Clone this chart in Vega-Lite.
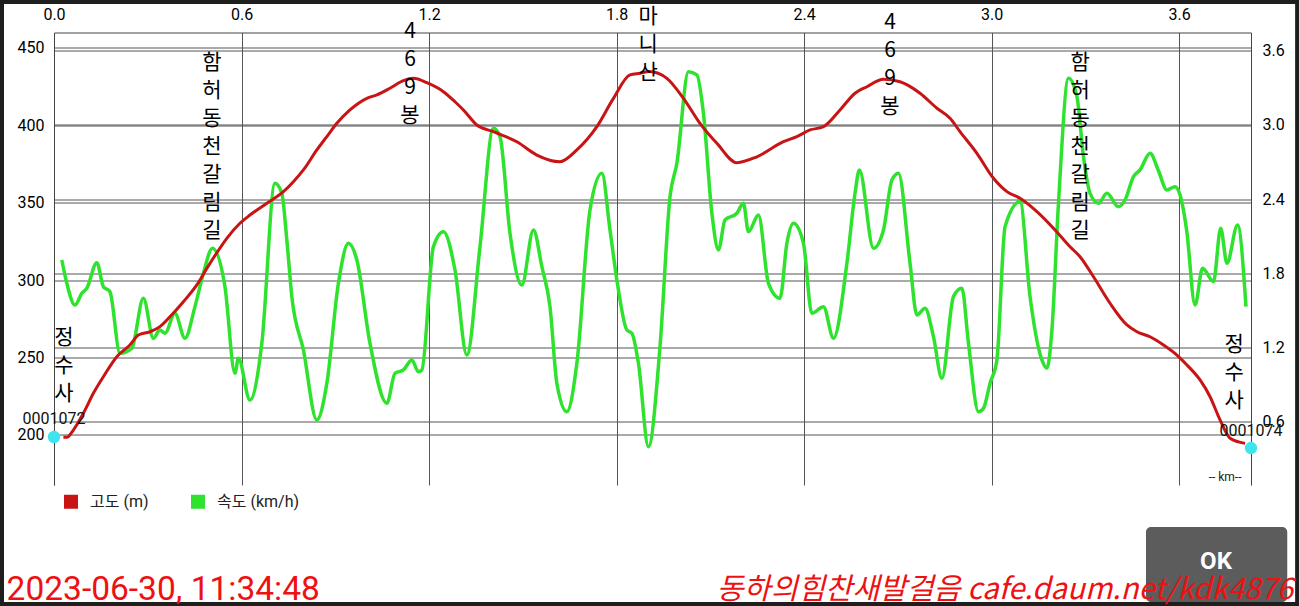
{
  "$schema": "https://vega.github.io/schema/vega-lite/v6.json",
  "width": 1197,
  "height": 452.5,
  "autosize": "none",
  "padding": {"left": 54, "top": 32.5, "right": 49, "bottom": 121},
  "background": "white",
  "config": {"view": {"stroke": null}, "font": "Roboto"},
  "datasets": {
    "elev": [
      {"km":0.030,"elev":198.5},{"km":0.041,"elev":198.5},{"km":0.062,"elev":203.2},{"km":0.094,"elev":214.0},{"km":0.126,"elev":226.9},{"km":0.158,"elev":237.6},{"km":0.201,"elev":250.5},{"km":0.243,"elev":258.1},{"km":0.270,"elev":264.5},{"km":0.307,"elev":266.6},{"km":0.339,"elev":269.9},{"km":0.371,"elev":276.3},{"km":0.414,"elev":286.0},{"km":0.457,"elev":296.8},{"km":0.489,"elev":307.5},{"km":0.521,"elev":317.6},{"km":0.553,"elev":326.9},{"km":0.595,"elev":336.6},{"km":0.627,"elev":341.9},{"km":0.681,"elev":349.5},{"km":0.734,"elev":357.0},{"km":0.766,"elev":363.4},{"km":0.798,"elev":371.0},{"km":0.841,"elev":383.9},{"km":0.873,"elev":392.5},{"km":0.905,"elev":401.1},{"km":0.947,"elev":409.7},{"km":1.001,"elev":417.2},{"km":1.033,"elev":419.4},{"km":1.075,"elev":423.7},{"km":1.118,"elev":428.6},{"km":1.150,"elev":430.1},{"km":1.193,"elev":427.3},{"km":1.246,"elev":421.5},{"km":1.283,"elev":415.0},{"km":1.310,"elev":409.7},{"km":1.353,"elev":400.0},{"km":1.406,"elev":395.7},{"km":1.481,"elev":389.2},{"km":1.545,"elev":380.6},{"km":1.619,"elev":376.3},{"km":1.673,"elev":383.9},{"km":1.737,"elev":398.9},{"km":1.790,"elev":417.2},{"km":1.843,"elev":432.3},{"km":1.875,"elev":433.4},{"km":1.905,"elev":434.5},{"km":1.961,"elev":430.1},{"km":2.014,"elev":417.2},{"km":2.067,"elev":401.1},{"km":2.121,"elev":388.2},{"km":2.185,"elev":375.7},{"km":2.249,"elev":379.5},{"km":2.334,"elev":389.2},{"km":2.377,"elev":392.5},{"km":2.419,"elev":396.8},{"km":2.462,"elev":398.9},{"km":2.515,"elev":409.7},{"km":2.563,"elev":420.5},{"km":2.601,"elev":424.7},{"km":2.654,"elev":429.5},{"km":2.707,"elev":427.9},{"km":2.771,"elev":420.5},{"km":2.825,"elev":410.8},{"km":2.867,"elev":404.3},{"km":2.899,"elev":395.7},{"km":2.953,"elev":381.7},{"km":3.006,"elev":365.6},{"km":3.049,"elev":357.0},{"km":3.091,"elev":352.7},{"km":3.145,"elev":344.1},{"km":3.203,"elev":332.3},{"km":3.251,"elev":321.5},{"km":3.283,"elev":315.0},{"km":3.326,"elev":302.1},{"km":3.379,"elev":285.0},{"km":3.433,"elev":271.0},{"km":3.465,"elev":266.6},{"km":3.507,"elev":263.4},{"km":3.550,"elev":258.1},{"km":3.593,"elev":251.6},{"km":3.625,"elev":245.2},{"km":3.667,"elev":235.5},{"km":3.699,"elev":224.7},{"km":3.731,"elev":209.7},{"km":3.763,"elev":197.9},{"km":3.811,"elev":194.6}
    ],
    "speed": [
      {"km":0.025,"speed":1.907},{"km":0.041,"speed":1.719},{"km":0.067,"speed":1.543},{"km":0.089,"speed":1.638},{"km":0.105,"speed":1.678},{"km":0.137,"speed":1.885},{"km":0.158,"speed":1.691},{"km":0.179,"speed":1.651},{"km":0.211,"speed":1.153},{"km":0.249,"speed":1.193},{"km":0.286,"speed":1.598},{"km":0.318,"speed":1.274},{"km":0.339,"speed":1.341},{"km":0.355,"speed":1.315},{"km":0.387,"speed":1.476},{"km":0.419,"speed":1.274},{"km":0.451,"speed":1.530},{"km":0.478,"speed":1.800},{"km":0.507,"speed":2.002},{"km":0.547,"speed":1.691},{"km":0.579,"speed":0.991},{"km":0.590,"speed":1.113},{"km":0.627,"speed":0.775},{"km":0.665,"speed":1.234},{"km":0.707,"speed":2.527},{"km":0.729,"speed":2.446},{"km":0.745,"speed":2.069},{"km":0.761,"speed":1.611},{"km":0.798,"speed":1.180},{"km":0.841,"speed":0.614},{"km":0.873,"speed":0.910},{"km":0.910,"speed":1.719},{"km":0.942,"speed":2.042},{"km":0.969,"speed":1.907},{"km":1.011,"speed":1.234},{"km":1.065,"speed":0.749},{"km":1.091,"speed":0.991},{"km":1.118,"speed":1.018},{"km":1.145,"speed":1.099},{"km":1.166,"speed":1.004},{"km":1.177,"speed":1.018},{"km":1.214,"speed":2.015},{"km":1.246,"speed":2.136},{"km":1.283,"speed":1.826},{"km":1.321,"speed":1.139},{"km":1.363,"speed":2.015},{"km":1.406,"speed":2.972},{"km":1.427,"speed":2.904},{"km":1.459,"speed":2.123},{"km":1.497,"speed":1.705},{"km":1.534,"speed":2.150},{"km":1.561,"speed":1.853},{"km":1.587,"speed":1.530},{"km":1.609,"speed":0.910},{"km":1.641,"speed":0.681},{"km":1.673,"speed":1.072},{"km":1.715,"speed":2.311},{"km":1.753,"speed":2.608},{"km":1.779,"speed":2.150},{"km":1.801,"speed":1.746},{"km":1.833,"speed":1.341},{"km":1.849,"speed":1.315},{"km":1.870,"speed":1.072},{"km":1.902,"speed":0.398},{"km":1.939,"speed":1.206},{"km":1.971,"speed":2.419},{"km":1.993,"speed":2.689},{"km":2.030,"speed":3.429},{"km":2.057,"speed":3.403},{"km":2.078,"speed":3.093},{"km":2.105,"speed":2.285},{"km":2.126,"speed":1.988},{"km":2.147,"speed":2.231},{"km":2.185,"speed":2.285},{"km":2.206,"speed":2.366},{"km":2.222,"speed":2.136},{"km":2.254,"speed":2.271},{"km":2.286,"speed":1.719},{"km":2.323,"speed":1.598},{"km":2.345,"speed":2.042},{"km":2.366,"speed":2.204},{"km":2.398,"speed":2.042},{"km":2.425,"speed":1.476},{"km":2.462,"speed":1.530},{"km":2.494,"speed":1.274},{"km":2.537,"speed":1.881},{"km":2.563,"speed":2.446},{"km":2.577,"speed":2.635},{"km":2.622,"speed":2.002},{"km":2.654,"speed":2.150},{"km":2.681,"speed":2.554},{"km":2.702,"speed":2.608},{"km":2.739,"speed":1.881},{"km":2.761,"speed":1.463},{"km":2.787,"speed":1.517},{"km":2.814,"speed":1.287},{"km":2.841,"speed":0.951},{"km":2.878,"speed":1.611},{"km":2.905,"speed":1.678},{"km":2.926,"speed":1.234},{"km":2.958,"speed":0.681},{"km":2.974,"speed":0.708},{"km":2.995,"speed":0.910},{"km":3.017,"speed":1.099},{"km":3.043,"speed":2.176},{"km":3.091,"speed":2.379},{"km":3.123,"speed":1.611},{"km":3.161,"speed":1.099},{"km":3.177,"speed":1.032},{"km":3.193,"speed":1.341},{"km":3.214,"speed":2.366},{"km":3.246,"speed":3.376},{"km":3.273,"speed":3.227},{"km":3.294,"speed":2.742},{"km":3.315,"speed":2.446},{"km":3.342,"speed":2.366},{"km":3.369,"speed":2.446},{"km":3.406,"speed":2.338},{"km":3.427,"speed":2.392},{"km":3.454,"speed":2.581},{"km":3.475,"speed":2.635},{"km":3.507,"speed":2.770},{"km":3.533,"speed":2.635},{"km":3.561,"speed":2.473},{"km":3.587,"speed":2.500},{"km":3.603,"speed":2.433},{"km":3.624,"speed":2.150},{"km":3.651,"speed":1.543},{"km":3.675,"speed":1.840},{"km":3.710,"speed":1.732},{"km":3.733,"speed":2.163},{"km":3.753,"speed":1.881},{"km":3.787,"speed":2.190},{"km":3.814,"speed":1.530}
    ],
    "places": [
      {"km":0.505,"elev":440.0,"label":"함|허|동|천|갈|림|길"},
      {"km":1.139,"elev":460.0,"label":"4|6|9|봉"},
      {"km":1.901,"elev":469.7,"label":"마|니|산"},
      {"km":2.675,"elev":465.8,"label":"4|6|9|봉"},
      {"km":3.283,"elev":439.8,"label":"함|허|동|천|갈|림|길"},
      {"km":0.032,"elev":262.6,"label":"정|수|사"},
      {"km":3.776,"elev":258.1,"label":"정|수|사"}
    ],
    "ends": [
      {"km":0.0,"elev":198.7},
      {"km":3.83,"elev":191.6}
    ],
    "endlabels": [
      {"km":0.0,"elev":210.3,"label":"0001072"},
      {"km":3.83,"elev":202.6,"label":"0001074"}
    ]
  },
  "layer": [
    {
      "data": {"name": "speed"},
      "mark": {"type": "line", "interpolate": "monotone", "strokeWidth": 3.5},
      "encoding": {
        "x": {"field": "km", "type": "quantitative",
          "scale": {"domain": [0, 3.83], "nice": false, "zero": false},
          "axis": {"orient": "top", "values": [0, 0.6, 1.2, 1.8, 2.4, 3.0, 3.6], "format": ".1f", "title": null,
            "ticks": false, "labelPadding": 10, "labelFontSize": 16, "labelFont": "Roboto", "labelColor": "#000",
            "domain": true, "domainColor": "#444", "grid": true, "gridColor": "#555", "gridOpacity": 1, "labelFlush": false}},
        "y": {"field": "speed", "type": "quantitative",
          "scale": {"domain": [0.0883, 3.746], "nice": false, "zero": false},
          "axis": {"orient": "right", "values": [0.6, 1.2, 1.8, 2.4, 3.0, 3.6], "format": ".1f", "title": null,
            "ticks": false, "labelPadding": 11, "labelFontSize": 16, "labelFont": "Roboto", "labelColor": "#000",
            "domain": true, "domainColor": "#444", "grid": true, "gridColor": "#555", "gridOpacity": 1}},
        "color": {"datum": "속도 (km/h)", "type": "nominal",
          "scale": {"domain": ["고도 (m)", "속도 (km/h)"], "range": ["#c81414", "#2ee22e"]},
          "legend": {"orient": "none", "legendX": 9, "legendY": 461, "direction": "horizontal", "title": null,
            "symbolType": "square", "symbolSize": 49, "symbolStrokeWidth": 7, "symbolOpacity": 1,
            "labelFontSize": 16, "labelFont": "Roboto, Noto Sans CJK KR", "labelColor": "#222",
            "labelOffset": 11, "columnPadding": 31}}
      }
    },
    {
      "encoding": {
        "x": {"field": "km", "type": "quantitative",
          "scale": {"domain": [0, 3.83], "nice": false, "zero": false},
          "axis": {"orient": "top", "values": [0, 0.6, 1.2, 1.8, 2.4, 3.0, 3.6], "format": ".1f", "title": null,
            "ticks": false, "labelPadding": 10, "labelFontSize": 16, "labelFont": "Roboto", "labelColor": "#000",
            "domain": true, "domainColor": "#444", "grid": true, "gridColor": "#555", "gridOpacity": 1, "labelFlush": false}},
        "y": {"field": "elev", "type": "quantitative",
          "scale": {"domain": [167.74, 459.68], "nice": false, "zero": false},
          "axis": {"orient": "left", "values": [200, 250, 300, 350, 400, 450], "title": null,
            "ticks": false, "labelPadding": 10, "labelFontSize": 16, "labelFont": "Roboto", "labelColor": "#000",
            "domain": true, "domainColor": "#444", "grid": true, "gridColor": "#555", "gridOpacity": 1}}
      },
      "layer": [
        {
          "data": {"values": [{"km": -0.1664, "elev": 479.4, "km2": 3.9776, "elev2": 90.97}]},
          "mark": {"type": "rect", "fillOpacity": 0, "stroke": "#1e1e1e", "strokeWidth": 4},
          "encoding": {"x2": {"field": "km2"}, "y2": {"field": "elev2"}}
        },
        {
          "data": {"values": [{"km": 3.494, "elev": 140.6, "km2": 3.946, "elev2": 92.3}]},
          "mark": {"type": "rect", "fill": "#5c5c5c", "cornerRadius": 5},
          "encoding": {"x2": {"field": "km2"}, "y2": {"field": "elev2"}}
        },
        {
          "data": {"values": [{"km": 3.718, "elev": 118.1, "label": "OK"}]},
          "mark": {"type": "text", "color": "#ffffff", "fontSize": 24, "fontWeight": "bold", "font": "Roboto", "align": "center", "baseline": "middle"},
          "encoding": {"text": {"field": "label"}}
        },
        {
          "data": {"name": "elev"},
          "mark": {"type": "line", "interpolate": "monotone", "strokeWidth": 3},
          "encoding": {
            "color": {"datum": "고도 (m)", "type": "nominal",
              "scale": {"domain": ["고도 (m)", "속도 (km/h)"], "range": ["#c81414", "#2ee22e"]}}
          }
        },
        {
          "data": {"name": "places"},
          "mark": {"type": "text", "font": "Noto Sans CJK KR", "fontSize": 21, "lineBreak": "|", "lineHeight": 28, "align": "center", "baseline": "middle", "color": "#000"},
          "encoding": {"text": {"field": "label"}}
        },
        {
          "data": {"name": "ends"},
          "mark": {"type": "point", "filled": true, "size": 154, "color": "#3ee4ee", "opacity": 1}
        },
        {
          "data": {"name": "endlabels"},
          "mark": {"type": "text", "font": "Roboto", "fontSize": 16, "align": "center", "baseline": "middle", "color": "#111"},
          "encoding": {"text": {"field": "label"}}
        },
        {
          "data": {"values": [{"km": 3.747, "elev": 172.9, "label": "-- km--"}]},
          "mark": {"type": "text", "font": "Roboto", "fontSize": 12, "align": "center", "baseline": "middle", "color": "#222"},
          "encoding": {"text": {"field": "label"}}
        },
        {
          "data": {"values": [{"km": -0.1517, "elev": 93.5, "label": "2023-06-30, 11:34:48"}]},
          "mark": {"type": "text", "font": "Roboto", "fontSize": 33.5, "align": "left", "baseline": "alphabetic", "color": "#ee1111"},
          "encoding": {"text": {"field": "label"}}
        },
        {
          "data": {"values": [{"km": 3.965, "elev": 94.5, "label": "동하의힘찬새발걸음 cafe.daum.net/kdk4876"}]},
          "mark": {"type": "text", "font": "Noto Sans CJK KR", "fontSize": 29.5, "fontStyle": "italic", "align": "right", "baseline": "alphabetic", "color": "#ee1111"},
          "encoding": {"text": {"field": "label"}}
        }
      ]
    }
  ],
  "resolve": {"scale": {"y": "independent"}}
}
